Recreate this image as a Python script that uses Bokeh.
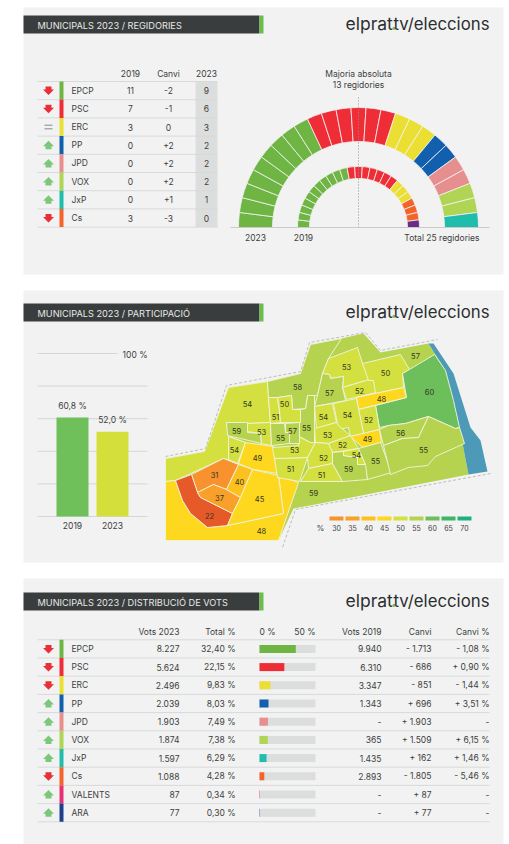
from bokeh.plotting import figure
from bokeh.models import Range1d, ColumnDataSource
from bokeh.core.properties import value
from bokeh.embed import file_html
from bokeh.resources import INLINE
import math

# ---------- data ----------
party_colors = {"EPCP": "#6fb544", "PSC": "#ef2d37", "ERC": "#ecdf33", "PP": "#1260ad", "JPD": "#e78f8f",
                "VOX": "#b0d453", "JxP": "#20bcac", "Cs": "#f4642a", "VALENTS": "#e83070", "ARA": "#1f3f8a", "ALTRES": "#6b2c85"}

seat_parties = ["EPCP", "PSC", "ERC", "PP", "JPD", "VOX", "JxP", "Cs"]
seat_dir = ["down", "down", "eq", "up", "up", "up", "up", "down"]
seats_2019_tbl = ["11", "7", "3", "0", "0", "0", "0", "3"]
seats_change = ["-2", "-1", "0", "+2", "+2", "+2", "+1", "-3"]
seats_2023_tbl = ["9", "6", "3", "2", "2", "2", "1", "0"]
ring_2023_parties = ["EPCP", "PSC", "ERC", "PP", "JPD", "VOX", "JxP"]
ring_2023_seats = [9, 6, 3, 2, 2, 2, 1]
ring_2019_parties = ["EPCP", "PSC", "ERC", "Cs", "ALTRES"]
ring_2019_seats = [11, 7, 3, 3, 1]

turnout_years = ["2019", "2023"]
turnout_values = [60.8, 52.0]
turnout_labels = ["60,8 %", "52,0 %"]
turnout_colors = ["#6fc05a", "#d4df3c"]
turnout_ticks = [0, 20, 40, 60, 80, 100]

legend_bins = ["30", "35", "40", "45", "50", "55", "60", "65", "70"]
legend_colors = ["#f7922e", "#f9a02a", "#fcc01f", "#fdd81f", "#d3e040", "#b5d34e", "#6cbf5a", "#3db765", "#1eb27a"]

vote_parties = ["EPCP", "PSC", "ERC", "PP", "JPD", "VOX", "JxP", "Cs", "VALENTS", "ARA"]
vote_dir = ["down", "down", "down", "up", "up", "up", "up", "down", "up", "up"]
votes_2023 = ["8.227", "5.624", "2.496", "2.039", "1.903", "1.874", "1.597", "1.088", "87", "77"]
total_pct_lbl = ["32,40 %", "22,15 %", "9,83 %", "8,03 %", "7,49 %", "7,38 %", "6,29 %", "4,28 %", "0,34 %", "0,30 %"]
total_pct = [32.40, 22.15, 9.83, 8.03, 7.49, 7.38, 6.29, 4.28, 0.34, 0.30]
votes_2019 = ["9.940", "6.310", "3.347", "1.343", "-", "365", "1.435", "2.893", "-", "-"]
votes_change = ["- 1.713", "- 686", "- 851", "+ 696", "+ 1.903", "+ 1.509", "+ 162", "- 1.805", "+ 87", "+ 77"]
pct_change = ["- 1,08 %", "+ 0,90 %", "- 1,44 %", "+ 3,51 %", "-", "+ 6,15 %", "+ 1,46 %", "- 5,46 %", "-", "-"]

# map geometry: district value and outline
map_outline = [(165,458),(204,451),(228,387),(267,381),(300,373),(310,344),(341,338),(363,333),(380,352),(428,343),
               (445,370),(459,427),(468,474),(320,503),(293,508),(278,540),(165,540)]
map_water = [(428,343),(433,343),(453,373),(470,427),(480,440),(487,471),(468,474),(459,427),(445,370)]
map_dash_a = [(165,456),(205,448),(226,385),(300,371),(309,342),(365,332),(380,350),(437,339)]
map_dash_b = [(490,473),(295,509),(282,547)]
map_regions = [
    (54, [(165,458),(204,451),(228,387),(267,381),(268,397),(270,422),(247,423),(226,422),(228,436),(245,442),(238,463),(223,458),(175,480),(165,481)]),
    (59, [(226,422),(247,422),(247,432),(260,433),(261,443),(227,435)]),
    (54, [(228,436),(245,442),(237,463),(228,459)]),
    (53, [(247,423),(270,422),(271,445),(261,443),(260,433),(247,431)]),
    (49, [(245,442),(273,446),(274,457),(277,473),(253,469),(238,463)]),
    (48, [(165,481),(175,480),(182,500),(190,513),(207,527),(227,525),(283,513),(278,475),(298,482),(278,540),(165,540)]),
    (31, [(191,474),(223,458),(238,464),(226,489),(213,484),(197,492)]),
    (22, [(175,480),(191,474),(197,492),(200,497),(232,513),(227,525),(207,527),(190,513),(182,500)]),
    (37, [(197,492),(213,484),(226,489),(240,497),(232,513),(200,497)]),
    (40, [(238,464),(252,469),(240,497),(226,489)]),
    (45, [(252,469),(278,475),(283,513),(227,525),(232,513),(240,497)]),
    (51, [(274,458),(307,457),(299,481),(277,477)]),
    (53, [(272,447),(298,445),(298,436),(310,442),(315,442),(307,457),(274,458)]),
    (55, [(270,423),(284,423),(285,432),(289,432),(289,443),(271,445)]),
    (57, [(285,423),(299,422),(299,443),(289,443),(289,432),(285,432)]),
    (55, [(300,409),(305,408),(307,395),(314,395),(314,442),(310,442),(299,436),(299,422)]),
    (58, [(341,338),(328,358),(322,373),(317,395),(307,395),(305,408),(292,409),(291,395),(277,397),(268,397),(267,381),(300,373),(310,344)]),
    (51, [(268,397),(277,397),(279,410),(280,422),(270,423)]),
    (50, [(277,397),(291,395),(292,409),(300,409),(300,422),(280,422),(279,410)]),
    (53, [(322,373),(328,358),(357,347),(362,363),(369,379),(342,387),(343,376),(330,378),(329,374)]),
    (57, [(322,373),(329,374),(330,378),(343,376),(342,387),(345,400),(314,406),(317,395)]),
    (52, [(342,387),(369,379),(374,380),(376,392),(346,399)]),
    (50, [(362,363),(400,354),(409,369),(402,373),(403,387),(375,393),(373,380),(368,380)]),
    (60, [(409,369),(434,354),(445,370),(453,400),(459,427),(455,428),(428,416),(405,423),(388,425),(379,427),(375,405),(406,397),(402,373)]),
    (48, [(356,397),(403,387),(406,397),(358,409)]),
    (52, [(358,409),(375,405),(379,429),(363,433)]),
    (54, [(333,403),(356,398),(363,433),(350,436),(348,427),(338,429)]),
    (54, [(314,406),(332,403),(336,422),(316,428)]),
    (53, [(314,428),(336,422),(338,425),(350,435),(328,443),(315,442)]),
    (49, [(350,436),(379,429),(381,442),(362,447)]),
    (52, [(328,443),(350,435),(358,448),(332,452)]),
    (52, [(315,442),(328,443),(332,452),(332,463),(308,468),(307,457)]),
    (51, [(308,468),(332,463),(342,481),(300,481)]),
    (59, [(332,452),(343,451),(343,455),(357,457),(357,464),(366,464),(367,479),(342,481),(332,463)]),
    (54, [(343,451),(358,448),(365,464),(357,464),(357,457),(343,455)]),
    (55, [(358,448),(380,442),(391,472),(367,479),(365,464)]),
    (56, [(379,429),(388,425),(405,423),(428,416),(418,437),(402,438),(383,445)]),
    (55, [(428,416),(455,428),(459,427),(464,443),(435,456),(427,465),(408,467),(390,474),(383,445),(402,438),(418,437)]),
]
map_labels = [(54,247,403),(58,297,386),(50,284,403),(51,275,416),(59,236,430),(53,261,431),(57,292,430),(55,280,437),
              (55,306,427),(54,234,449),(49,257,457),(53,294,449),(51,290,468),(31,214,474),(40,239,481),(37,219,497),
              (45,259,498),(22,209,515),(48,261,530),(59,313,492),(51,321,474),(52,323,457),(52,342,444),(53,327,434),
              (54,323,416),(54,347,414),(57,329,392),(53,346,366),(52,359,390),(50,385,372),(57,415,355),(60,429,391),
              (48,381,398),(52,368,419),(49,367,438),(56,400,432),(55,423,449),(59,348,468),(54,356,454),(55,375,460)]

headers = ["MUNICIPALS 2023 / REGIDORIES", "MUNICIPALS 2023 / PARTICIPACIÓ", "MUNICIPALS 2023 / DISTRIBUCIÓ DE VOTS"]

# ---------- page ----------
FONT = value("Inter")
INK = "#3c3f40"
LINE = "#d8d9d9"
PANEL = "#f2f2f2"
W, H = 509, 844
p = figure(width=W, height=H, x_range=Range1d(0, W), y_range=Range1d(H, 0),
           output_backend="svg", toolbar_location=None, min_border=0,
           background_fill_color="white", border_fill_color="white")
p.axis.visible = False
p.grid.visible = False
p.outline_line_color = None

def linear_range(v0, px0, v1, px1, lo, hi):
    k = (v1 - v0) / (px1 - px0)
    return Range1d(v0 + (lo - px0) * k, v0 + (hi - px0) * k)

p.extra_y_ranges["turnout"] = linear_range(0, 516, 100, 353, H, 0)
p.extra_x_ranges["share"] = linear_range(0, 259, 50, 315, 0, W)

def txt(x, y, s, size=8.5, align="left", color=INK, style="normal"):
    p.text(x=[x], y=[y], text=[s], text_font=FONT, text_font_size=f"{size}px", text_align=align,
           text_baseline="middle", text_color=color, text_font_style=style)

def rect(x0, x1, y0, y1, color):
    p.quad(left=[x0], right=[x1], top=[y0], bottom=[y1], fill_color=color, line_color=None)

def arrow(cx, cy, kind):
    if kind == "eq":
        rect(cx-4, cx+4, cy-2.5, cy-1, "#a9abab")
        rect(cx-4, cx+4, cy+1, cy+2.5, "#a9abab")
        return
    s = 1 if kind == "down" else -1
    col = "#e8303a" if kind == "down" else "#7dc77a"
    xs = [-3, 3, 3, 5.5, 0, -5.5, -3]
    ys = [-4, -4, -1, -1, 4.5, -1, -1]
    p.patch([cx+a for a in xs], [cy+s*b for b in ys], fill_color=col, line_color=None)

# panels, headers, logo
for top, bottom, bar, title in zip([7, 290, 578], [274, 562, H], [15, 303, 592], headers):
    rect(23, 503, top, bottom, PANEL)
    rect(23, 259, bar, bar+18, "#3a3d3d")
    rect(259, 263, bar, bar+18, "#6abf4b")
    txt(37, bar+9.5, title, size=9.2, color="#e8e8e8")
    base = bar + 8
    txt(345, base, "elprat", size=17.5, color="#2b2e30")
    txt(390.5, base, ".", size=17.5, color="#6abf4b", style="bold")
    txt(489, base, "tv/eleccions", size=16.8, align="right", color="#2b2e30")

# ---- table 1
ROW1 = 18.2
T1 = 81
rect(195, 217, T1, T1+8*ROW1, "#dcdddd")
txt(130, 73, "2019", align="center"); txt(168, 73, "Canvi", align="center"); txt(206, 73, "2023", align="center")
for i in range(9):
    p.line([37, 217], [T1+i*ROW1]*2, line_color=LINE, line_width=1)
for i, party in enumerate(seat_parties):
    cy = T1 + (i+.5)*ROW1
    rect(59, 63, T1+i*ROW1, T1+(i+1)*ROW1, party_colors[party])
    arrow(48, cy, seat_dir[i])
    txt(71, cy, party)
    txt(130, cy, seats_2019_tbl[i], align="center")
    txt(168, cy, seats_change[i], align="center")
    txt(206, cy, seats_2023_tbl[i], align="center")

# ---- hemicycles
CX, CY = 358, 227
def ring(parties, seats, r0, r1):
    total = sum(seats)
    n = 0
    for party, k in zip(parties, seats):
        for _ in range(k):
            hi = math.pi * (1 - n/total)
            lo = math.pi * (1 - (n+1)/total)
            p.annular_wedge(x=[CX], y=[CY], inner_radius=r0, outer_radius=r1, start_angle=lo, end_angle=hi,
                            fill_color=party_colors[party], line_color=PANEL, line_width=0.8)
            n += 1
ring(ring_2023_parties, ring_2023_seats, 86, 120)
ring(ring_2019_parties, ring_2019_seats, 49, 61)
p.line([CX, CX], [97, CY], line_color="#8f9191", line_width=1, line_dash="1 2")
p.line([230, 489], [CY, CY], line_color="#c9caca", line_width=1)
txt(CX, 73, "Majoria absoluta", align="center")
txt(CX, 84, "13 regidories", align="center")
txt(255, 237, "2023", align="center")
txt(303, 237, "2019", align="center")
txt(479, 237, "Total 25 regidories", align="right")

# ---- turnout bars
for t in turnout_ticks:
    right = 117 if t == 100 else 147
    p.line([37, right], [t, t], y_range_name="turnout", line_color="#d5d6d6", line_width=1)
txt(147, 354, "100 %", align="right")
p.vbar(x=[72, 112], width=32, bottom=0, top=turnout_values, y_range_name="turnout",
       fill_color=turnout_colors, line_color=None)
for x, v, lab, yr in zip([72, 112], turnout_values, turnout_labels, turnout_years):
    p.text(x=[x], y=[v+7], text=[lab], y_range_name="turnout", text_font=FONT, text_font_size="8.5px",
           text_align="center", text_baseline="middle", text_color=INK)
    txt(x, 525, yr, align="center")

# ---- map
def map_color(v):
    for lim, c in zip([30, 35, 40, 45, 50, 55, 60, 65],
                      ["#e65a2a", "#f7922e", "#f9a02a", "#fcc01f", "#fdd81f", "#d3e040", "#b5d34e", "#6cbf5a"]):
        if v < lim:
            return c
    return "#3db765"

p.patch([a for a, _ in map_outline], [b for _, b in map_outline], fill_color="#b5d34e", line_color=None)
p.patch([a for a, _ in map_water], [b for _, b in map_water], fill_color="#4c9ab8", line_color=None)
for v, pts in map_regions:
    p.patch([a for a, _ in pts], [b for _, b in pts], fill_color=map_color(v),
            line_color="#f3f4dc", line_width=0.9)
for dash in (map_dash_a, map_dash_b):
    p.line([a for a, _ in dash], [b for _, b in dash], line_color="#bcbdbd", line_width=1, line_dash="3 2")
for v, x, y in map_labels:
    txt(x, y, str(v), size=7.5, align="center", color="#33371f")
txt(320, 527, "%", size=8, align="center")
for i, (lab, col) in enumerate(zip(legend_bins, legend_colors)):
    rect(329+16*i, 343+16*i, 516, 520, col)
    txt(336+16*i, 527, lab, size=7, align="center")

# ---- table 3
ROW3 = 18.2
T3 = 639.3
for x, s, a in [(179, "Vots 2023", "right"), (235, "Total %", "right"), (259, "0 %", "left"), (315, "50 %", "right"),
                (381, "Vots 2019", "right"), (431, "Canvi", "right"), (489, "Canvi %", "right")]:
    txt(x, 631, s, align=a)
for i in range(11):
    p.line([37, 489], [T3+i*ROW3]*2, line_color=LINE, line_width=1)
for i, party in enumerate(vote_parties):
    cy = T3 + (i+.5)*ROW3
    rect(59, 63, T3+i*ROW3, T3+(i+1)*ROW3, party_colors[party])
    arrow(48, cy, vote_dir[i])
    txt(71, cy, party)
    txt(179, cy, votes_2023[i], align="right")
    txt(235, cy, total_pct_lbl[i], align="right")
    p.hbar(y=[cy], height=8, left=0, right=50, x_range_name="share", fill_color="#dcdddd", line_color=None)
    p.hbar(y=[cy], height=8, left=0, right=total_pct[i], x_range_name="share", fill_color=party_colors[party], line_color=None)
    txt(381, cy, votes_2019[i], align="right")
    txt(431, cy, votes_change[i], align="right")
    txt(489, cy, pct_change[i], align="right")

open("out.html", "w").write(file_html(p, INLINE))
